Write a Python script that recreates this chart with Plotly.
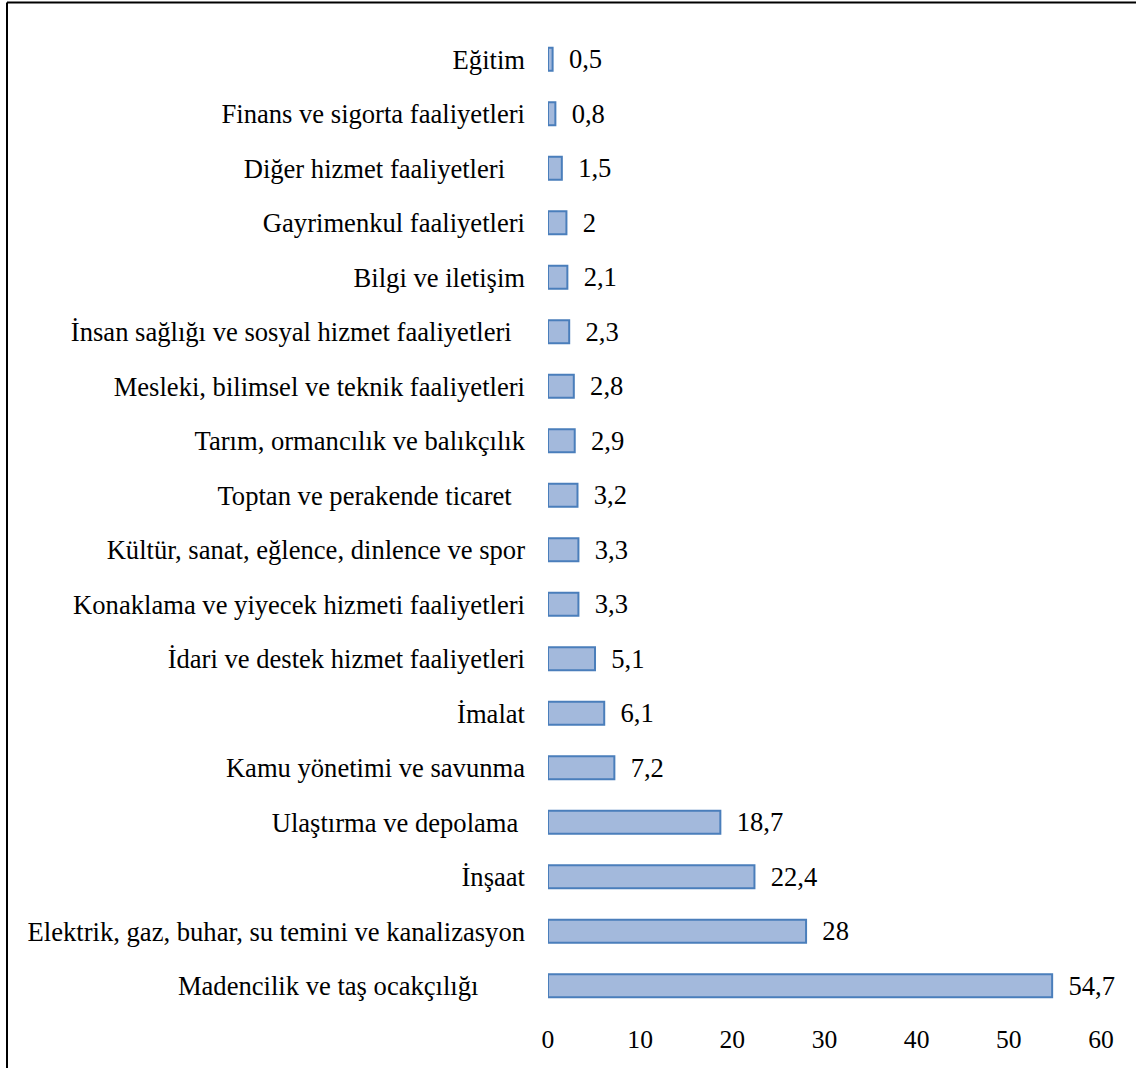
import plotly.graph_objects as go

# Sectors, listed bottom-to-top as drawn on the category axis
sectors = [
    "Madencilik ve taş ocakçılığı\u00a0\u00a0\u00a0\u00a0\u00a0\u00a0\u00a0",
    "Elektrik, gaz, buhar, su temini ve kanalizasyon",
    "İnşaat",
    "Ulaştırma ve depolama\u00a0",
    "Kamu yönetimi ve savunma",
    "İmalat",
    "İdari ve destek hizmet faaliyetleri",
    "Konaklama ve yiyecek hizmeti faaliyetleri",
    "Kültür, sanat, eğlence, dinlence ve spor",
    "Toptan ve perakende ticaret\u00a0\u00a0",
    "Tarım, ormancılık ve balıkçılık",
    "Mesleki, bilimsel ve teknik faaliyetleri",
    "İnsan sağlığı ve sosyal hizmet faaliyetleri\u00a0\u00a0",
    "Bilgi ve iletişim",
    "Gayrimenkul faaliyetleri",
    "Diğer hizmet faaliyetleri\u00a0\u00a0\u00a0",
    "Finans ve sigorta faaliyetleri",
    "Eğitim",
]
values = [54.7, 28, 22.4, 18.7, 7.2, 6.1, 5.1, 3.3, 3.3, 3.2, 2.9, 2.8, 2.3, 2.1, 2, 1.5, 0.8, 0.5]
x_ticks = [0, 10, 20, 30, 40, 50, 60]

# Value labels use a decimal comma, set off from the bar end by a small gap
labels = ["\u00a0\u00a0" + ("%g" % v).replace(".", ",") for v in values]

FONT = "Liberation Serif, Times New Roman, serif"
SIZE = 26.6

fig = go.Figure(
    go.Bar(
        x=values,
        y=sectors,
        orientation="h",
        width=0.42,
        marker=dict(color="#a3b9dc", line=dict(color="#4a7ebb", width=2)),
        text=labels,
        textposition="outside",
        constraintext="none",
        textfont=dict(family=FONT, size=SIZE, color="#000000"),
        cliponaxis=False,
    )
)

fig.update_layout(
    width=1136,
    height=1068,
    margin=dict(l=548, r=35, t=32, b=55),
    paper_bgcolor="white",
    plot_bgcolor="white",
    showlegend=False,
    font=dict(family=FONT, size=SIZE, color="#000000"),
    xaxis=dict(
        range=[0, 60],
        tickvals=x_ticks,
        showgrid=False,
        zeroline=False,
        showline=False,
        ticks="",
        ticklabelstandoff=8,
        tickfont=dict(family=FONT, size=SIZE - 1),
    ),
    yaxis=dict(
        categoryorder="array",
        categoryarray=sectors,
        range=[-0.5, 17.5],
        showgrid=False,
        zeroline=False,
        showline=False,
        ticks="",
        ticklabelstandoff=22,
        tickfont=dict(family=FONT, size=SIZE),
    ),
)

# Outer frame: left and top edges of the chart box
plot_w = 1136 - 548 - 35
plot_h = 1068 - 32 - 55
x_left = (7 - 548) / plot_w
y_top = (1013 - 2.5) / plot_h
fig.add_shape(type="line", xref="paper", yref="paper",
              x0=x_left, x1=x_left, y0=y_top, y1=-0.1,
              line=dict(color="black", width=2))
fig.add_shape(type="line", xref="paper", yref="paper",
              x0=x_left, x1=1.1, y0=y_top, y1=y_top,
              line=dict(color="black", width=2))

fig.write_html("out.html")
